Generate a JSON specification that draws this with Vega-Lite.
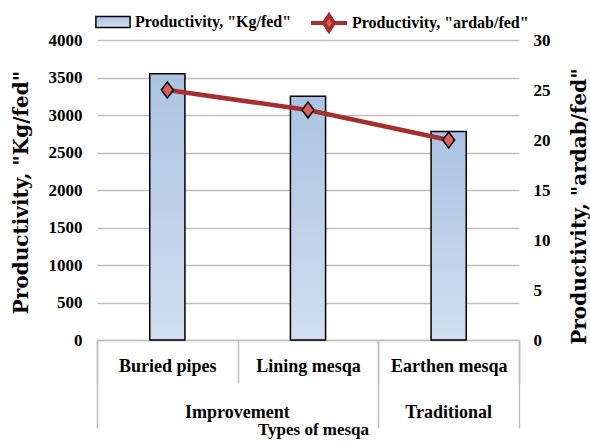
{
  "$schema": "https://vega.github.io/schema/vega-lite/v6.json",
  "width": 422,
  "height": 300,
  "autosize": "none",
  "padding": {"left": 97, "top": 40, "right": 71, "bottom": 103},
  "background": "white",
  "config": {
    "view": {"stroke": null},
    "font": "Liberation Serif",
    "axis": {"labelFont": "Liberation Serif", "labelFontWeight": "bold", "labelColor": "black", "titleFont": "Liberation Serif", "titleFontWeight": "bold", "titleColor": "black", "labelFontSize": 17}
  },
  "data": {
    "values": [
      {"type": "Buried pipes", "group": "Improvement", "kg": 3550, "ardab": 25},
      {"type": "Lining mesqa", "group": "Improvement", "kg": 3250, "ardab": 23},
      {"type": "Earthen mesqa", "group": "Traditional", "kg": 2780, "ardab": 20}
    ]
  },
  "layer": [
    {
      "mark": {"type": "bar", "width": {"band": 0.25}, "strokeWidth": 1.5, "fill": {"gradient": "linear", "x1": 0, "y1": 0, "x2": 0, "y2": 1, "stops": [{"offset": 0, "color": "#abc3e2"}, {"offset": 1, "color": "#d2def0"}]}},
      "encoding": {
        "x": {"field": "type", "type": "nominal", "sort": null,
          "scale": {"domain": ["Buried pipes", "Lining mesqa", "Earthen mesqa"], "paddingInner": 0, "paddingOuter": 0},
          "axis": {"orient": "bottom", "title": null, "labelAngle": 0, "labelFontSize": 18, "tickBand": "extent", "tickSize": 43, "tickColor": "#bfbfbf", "tickWidth": 1.5, "domainColor": "#bfbfbf", "domainWidth": 1.5, "labelPadding": -26, "labelBaseline": "top"}},
        "y": {"field": "kg", "type": "quantitative",
          "scale": {"domain": [0, 4000], "nice": false},
          "axis": {"values": [0, 500, 1000, 1500, 2000, 2500, 3000, 3500, 4000], "format": "d", "ticks": false, "domain": false, "grid": true, "gridColor": "#bfbfbf", "gridWidth": 1.5, "labelPadding": 15,
            "title": "Productivity,  \"Kg/fed\"", "titleFont": "DejaVu Serif", "titleFontSize": 20, "titleX": -70, "titleY": 152, "titleBaseline": "alphabetic", "titleAngle": 270}},
        "stroke": {"datum": "Productivity, \"Kg/fed\"", "type": "nominal",
          "scale": {"range": ["black"]},
          "legend": {"orient": "none", "legendX": -3, "legendY": -37, "title": null, "padding": 0,
            "labelFont": "Liberation Serif", "labelFontWeight": "bold", "labelFontSize": 16, "labelColor": "black", "labelLimit": 400, "labelOffset": 3,
            "symbolType": "M-0.95,-0.3H0.95V0.3H-0.95Z", "symbolSize": 1296, "symbolStrokeWidth": 1.5}}
      }
    },
    {
      "mark": {"type": "line", "strokeWidth": 4.5},
      "encoding": {
        "x": {"field": "type", "type": "nominal", "sort": null,
          "axis": {"orient": "bottom", "values": ["Buried pipes", "Earthen mesqa"], "bandPosition": 0, "tickSize": 88, "tickColor": "#bfbfbf", "tickWidth": 1.5, "domain": false, "labelAngle": 0, "labelFontSize": 18, "labelPadding": -25, "labelBaseline": "top",
            "labelExpr": "datum.value == 'Buried pipes' ? 'Improvement' : 'Traditional'",
            "labelOffset": {"condition": {"test": "datum.value == 'Buried pipes'", "value": 70}, "value": 0},
            "title": "Types of mesqa", "titleFontSize": 17, "titleX": 216, "titleY": 81, "titleBaseline": "top"}},
        "y": {"field": "ardab", "type": "quantitative",
          "scale": {"domain": [0, 30], "nice": false},
          "axis": {"orient": "right", "values": [0, 5, 10, 15, 20, 25, 30], "ticks": false, "domain": false, "grid": false, "labelPadding": 14,
            "title": "Productivity,  \"ardab/fed\"", "titleFont": "DejaVu Serif", "titleFontSize": 20, "titleX": 66, "titleY": 166, "titleBaseline": "alphabetic", "titleAngle": 270}},
        "stroke": {"datum": "Productivity, \"ardab/fed\"", "type": "nominal",
          "scale": {"range": ["#a52f2f"]},
          "legend": {"orient": "none", "legendX": 212, "legendY": -37, "title": null, "padding": 0,
            "labelFont": "Liberation Serif", "labelFontWeight": "bold", "labelFontSize": 16, "labelColor": "black", "labelLimit": 400, "labelOffset": 3,
            "symbolType": "M-1,0H-0.28M0.28,0H1M0,-0.42L0.28,0L0,0.42L-0.28,0Z", "symbolSize": 1296, "symbolFillColor": "#dc5f5f", "symbolStrokeWidth": 4}}
      }
    },
    {
      "mark": {"type": "point", "shape": "M-0.75,0L0,-1L0.75,0L0,1Z", "size": 256, "filled": true, "fill": "#dc5f5f", "stroke": "black", "strokeWidth": 1.5, "opacity": 1},
      "encoding": {
        "x": {"field": "type", "type": "nominal", "sort": null,
          "axis": {"orient": "bottom", "values": ["Earthen mesqa"], "bandPosition": 1, "tickSize": 88, "tickColor": "#bfbfbf", "tickWidth": 1.5, "domain": false, "labels": false, "title": null}},
        "y": {"field": "ardab", "type": "quantitative", "scale": {"domain": [0, 30], "nice": false}, "axis": null}
      }
    }
  ],
  "resolve": {"scale": {"y": "independent", "stroke": "independent"}, "legend": {"stroke": "independent"}, "axis": {"x": "independent"}}
}
